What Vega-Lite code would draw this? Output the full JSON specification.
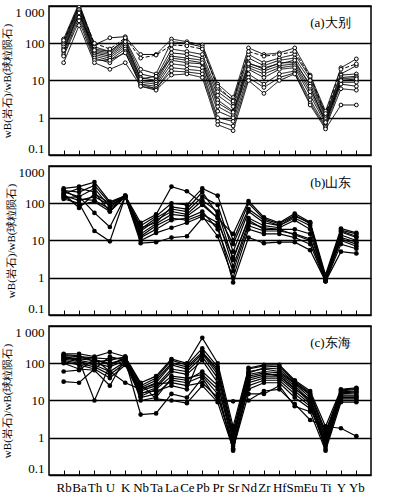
{
  "$schema": "https://vega.github.io/schema/vega-lite/v6.json",
  "padding": {"left": 1, "top": 5, "right": 5, "bottom": 3},
  "background": "white",
  "spacing": 11,
  "bounds": "flush",
  "config": {
    "view": {"stroke": "black", "strokeWidth": 1.5},
    "axis": {"labelColor": "black", "titleColor": "black"}
  },
  "datasets": {
    "a": [
      {"s":"a1","el":"Rb","v":130},{"s":"a1","el":"Ba","v":1200},{"s":"a1","el":"Th","v":90},{"s":"a1","el":"U","v":140},{"s":"a1","el":"K","v":150},{"s":"a1","el":"Nb","v":50},{"s":"a1","el":"Ta","v":50},{"s":"a1","el":"La","v":130},{"s":"a1","el":"Ce","v":110},{"s":"a1","el":"Pb","v":90},{"s":"a1","el":"Pr","v":8},{"s":"a1","el":"Sr","v":3.5},{"s":"a1","el":"Nd","v":75},{"s":"a1","el":"Zr","v":50},{"s":"a1","el":"Hf","v":55},{"s":"a1","el":"Sm","v":75},{"s":"a1","el":"Eu","v":14},{"s":"a1","el":"Ti","v":1.5},{"s":"a1","el":"Y","v":22},{"s":"a1","el":"Yb","v":38},
      {"s":"a2","el":"Rb","v":110},{"s":"a2","el":"Ba","v":1100},{"s":"a2","el":"Th","v":80},{"s":"a2","el":"U","v":60},{"s":"a2","el":"K","v":130},{"s":"a2","el":"Nb","v":20},{"s":"a2","el":"Ta","v":15},{"s":"a2","el":"La","v":110},{"s":"a2","el":"Ce","v":100},{"s":"a2","el":"Pb","v":80},{"s":"a2","el":"Pr","v":6},{"s":"a2","el":"Sr","v":3},{"s":"a2","el":"Nd","v":50},{"s":"a2","el":"Zr","v":30},{"s":"a2","el":"Hf","v":40},{"s":"a2","el":"Sm","v":50},{"s":"a2","el":"Eu","v":12},{"s":"a2","el":"Ti","v":1.2},{"s":"a2","el":"Y","v":15},{"s":"a2","el":"Yb","v":25},
      {"s":"a3","el":"Rb","v":100},{"s":"a3","el":"Ba","v":1000},{"s":"a3","el":"Th","v":70},{"s":"a3","el":"U","v":60},{"s":"a3","el":"K","v":120},{"s":"a3","el":"Nb","v":15},{"s":"a3","el":"Ta","v":12},{"s":"a3","el":"La","v":70},{"s":"a3","el":"Ce","v":60},{"s":"a3","el":"Pb","v":50},{"s":"a3","el":"Pr","v":5},{"s":"a3","el":"Sr","v":2.5},{"s":"a3","el":"Nd","v":40},{"s":"a3","el":"Zr","v":25},{"s":"a3","el":"Hf","v":35},{"s":"a3","el":"Sm","v":40},{"s":"a3","el":"Eu","v":10},{"s":"a3","el":"Ti","v":1.1},{"s":"a3","el":"Y","v":14},{"s":"a3","el":"Yb","v":15},
      {"s":"a4","el":"Rb","v":90},{"s":"a4","el":"Ba","v":900},{"s":"a4","el":"Th","v":60},{"s":"a4","el":"U","v":50},{"s":"a4","el":"K","v":100},{"s":"a4","el":"Nb","v":12},{"s":"a4","el":"Ta","v":10},{"s":"a4","el":"La","v":55},{"s":"a4","el":"Ce","v":50},{"s":"a4","el":"Pb","v":40},{"s":"a4","el":"Pr","v":4},{"s":"a4","el":"Sr","v":2},{"s":"a4","el":"Nd","v":30},{"s":"a4","el":"Zr","v":20},{"s":"a4","el":"Hf","v":30},{"s":"a4","el":"Sm","v":30},{"s":"a4","el":"Eu","v":8},{"s":"a4","el":"Ti","v":1.0},{"s":"a4","el":"Y","v":12},{"s":"a4","el":"Yb","v":13},
      {"s":"a5","el":"Rb","v":80},{"s":"a5","el":"Ba","v":800},{"s":"a5","el":"Th","v":55},{"s":"a5","el":"U","v":45},{"s":"a5","el":"K","v":90},{"s":"a5","el":"Nb","v":10},{"s":"a5","el":"Ta","v":9},{"s":"a5","el":"La","v":45},{"s":"a5","el":"Ce","v":40},{"s":"a5","el":"Pb","v":35},{"s":"a5","el":"Pr","v":3},{"s":"a5","el":"Sr","v":1.5},{"s":"a5","el":"Nd","v":25},{"s":"a5","el":"Zr","v":18},{"s":"a5","el":"Hf","v":25},{"s":"a5","el":"Sm","v":28},{"s":"a5","el":"Eu","v":6},{"s":"a5","el":"Ti","v":0.9},{"s":"a5","el":"Y","v":11},{"s":"a5","el":"Yb","v":12},
      {"s":"a6","el":"Rb","v":70},{"s":"a6","el":"Ba","v":700},{"s":"a6","el":"Th","v":50},{"s":"a6","el":"U","v":40},{"s":"a6","el":"K","v":80},{"s":"a6","el":"Nb","v":9},{"s":"a6","el":"Ta","v":8},{"s":"a6","el":"La","v":35},{"s":"a6","el":"Ce","v":30},{"s":"a6","el":"Pb","v":28},{"s":"a6","el":"Pr","v":2},{"s":"a6","el":"Sr","v":1.2},{"s":"a6","el":"Nd","v":22},{"s":"a6","el":"Zr","v":15},{"s":"a6","el":"Hf","v":22},{"s":"a6","el":"Sm","v":25},{"s":"a6","el":"Eu","v":5},{"s":"a6","el":"Ti","v":0.8},{"s":"a6","el":"Y","v":10},{"s":"a6","el":"Yb","v":10},
      {"s":"a7","el":"Rb","v":60},{"s":"a7","el":"Ba","v":600},{"s":"a7","el":"Th","v":45},{"s":"a7","el":"U","v":35},{"s":"a7","el":"K","v":70},{"s":"a7","el":"Nb","v":8},{"s":"a7","el":"Ta","v":7},{"s":"a7","el":"La","v":28},{"s":"a7","el":"Ce","v":25},{"s":"a7","el":"Pb","v":22},{"s":"a7","el":"Pr","v":1.5},{"s":"a7","el":"Sr","v":1.0},{"s":"a7","el":"Nd","v":20},{"s":"a7","el":"Zr","v":12},{"s":"a7","el":"Hf","v":20},{"s":"a7","el":"Sm","v":22},{"s":"a7","el":"Eu","v":4},{"s":"a7","el":"Ti","v":0.7},{"s":"a7","el":"Y","v":9},{"s":"a7","el":"Yb","v":9},
      {"s":"a8","el":"Rb","v":50},{"s":"a8","el":"Ba","v":500},{"s":"a8","el":"Th","v":40},{"s":"a8","el":"U","v":30},{"s":"a8","el":"K","v":60},{"s":"a8","el":"Nb","v":7},{"s":"a8","el":"Ta","v":6},{"s":"a8","el":"La","v":22},{"s":"a8","el":"Ce","v":20},{"s":"a8","el":"Pb","v":18},{"s":"a8","el":"Pr","v":1.0},{"s":"a8","el":"Sr","v":0.8},{"s":"a8","el":"Nd","v":15},{"s":"a8","el":"Zr","v":8},{"s":"a8","el":"Hf","v":15},{"s":"a8","el":"Sm","v":18},{"s":"a8","el":"Eu","v":3},{"s":"a8","el":"Ti","v":0.6},{"s":"a8","el":"Y","v":8},{"s":"a8","el":"Yb","v":7},
      {"s":"a9","el":"Rb","v":45},{"s":"a9","el":"Ba","v":400},{"s":"a9","el":"Th","v":35},{"s":"a9","el":"U","v":35},{"s":"a9","el":"K","v":55},{"s":"a9","el":"Nb","v":8},{"s":"a9","el":"Ta","v":6},{"s":"a9","el":"La","v":18},{"s":"a9","el":"Ce","v":17},{"s":"a9","el":"Pb","v":15},{"s":"a9","el":"Pr","v":0.8},{"s":"a9","el":"Sr","v":0.6},{"s":"a9","el":"Nd","v":12},{"s":"a9","el":"Zr","v":6.5},{"s":"a9","el":"Hf","v":12},{"s":"a9","el":"Sm","v":16},{"s":"a9","el":"Eu","v":2.5},{"s":"a9","el":"Ti","v":0.55},{"s":"a9","el":"Y","v":6},{"s":"a9","el":"Yb","v":5.5},
      {"s":"a10","el":"Rb","v":30},{"s":"a10","el":"Ba","v":300},{"s":"a10","el":"Th","v":30},{"s":"a10","el":"U","v":20},{"s":"a10","el":"K","v":30},{"s":"a10","el":"Nb","v":7},{"s":"a10","el":"Ta","v":5.5},{"s":"a10","el":"La","v":14},{"s":"a10","el":"Ce","v":15},{"s":"a10","el":"Pb","v":12},{"s":"a10","el":"Pr","v":0.65},{"s":"a10","el":"Sr","v":0.45},{"s":"a10","el":"Nd","v":10},{"s":"a10","el":"Zr","v":4.5},{"s":"a10","el":"Hf","v":10},{"s":"a10","el":"Sm","v":15},{"s":"a10","el":"Eu","v":2.2},{"s":"a10","el":"Ti","v":0.5},{"s":"a10","el":"Y","v":2.2},{"s":"a10","el":"Yb","v":2.2},
      {"s":"a11","el":"Rb","v":120},{"s":"a11","el":"Ba","v":1000},{"s":"a11","el":"Th","v":100},{"s":"a11","el":"U","v":70},{"s":"a11","el":"K","v":140},{"s":"a11","el":"Nb","v":40},{"s":"a11","el":"Ta","v":48},{"s":"a11","el":"La","v":90},{"s":"a11","el":"Ce","v":85},{"s":"a11","el":"Pb","v":70},{"s":"a11","el":"Pr","v":7},{"s":"a11","el":"Sr","v":2.8},{"s":"a11","el":"Nd","v":60},{"s":"a11","el":"Zr","v":45},{"s":"a11","el":"Hf","v":50},{"s":"a11","el":"Sm","v":60},{"s":"a11","el":"Eu","v":13},{"s":"a11","el":"Ti","v":1.3},{"s":"a11","el":"Y","v":20},{"s":"a11","el":"Yb","v":28},
      {"s":"a12","el":"Rb","v":65},{"s":"a12","el":"Ba","v":650},{"s":"a12","el":"Th","v":65},{"s":"a12","el":"U","v":55},{"s":"a12","el":"K","v":110},{"s":"a12","el":"Nb","v":11},{"s":"a12","el":"Ta","v":13},{"s":"a12","el":"La","v":40},{"s":"a12","el":"Ce","v":35},{"s":"a12","el":"Pb","v":30},{"s":"a12","el":"Pr","v":2.5},{"s":"a12","el":"Sr","v":1.4},{"s":"a12","el":"Nd","v":28},{"s":"a12","el":"Zr","v":22},{"s":"a12","el":"Hf","v":28},{"s":"a12","el":"Sm","v":35},{"s":"a12","el":"Eu","v":7},{"s":"a12","el":"Ti","v":0.75},{"s":"a12","el":"Y","v":10},{"s":"a12","el":"Yb","v":11}
    ],
    "b": [
      {"s":"b1","el":"Rb","v":250},{"s":"b1","el":"Ba","v":280},{"s":"b1","el":"Th","v":370},{"s":"b1","el":"U","v":110},{"s":"b1","el":"K","v":160},{"s":"b1","el":"Nb","v":30},{"s":"b1","el":"Ta","v":50},{"s":"b1","el":"La","v":280},{"s":"b1","el":"Ce","v":210},{"s":"b1","el":"Pb","v":100},{"s":"b1","el":"Pr","v":40},{"s":"b1","el":"Sr","v":15},{"s":"b1","el":"Nd","v":115},{"s":"b1","el":"Zr","v":42},{"s":"b1","el":"Hf","v":30},{"s":"b1","el":"Sm","v":53},{"s":"b1","el":"Eu","v":31},{"s":"b1","el":"Ti","v":1.2},{"s":"b1","el":"Y","v":21},{"s":"b1","el":"Yb","v":16},
      {"s":"b2","el":"Rb","v":220},{"s":"b2","el":"Ba","v":200},{"s":"b2","el":"Th","v":300},{"s":"b2","el":"U","v":100},{"s":"b2","el":"K","v":155},{"s":"b2","el":"Nb","v":25},{"s":"b2","el":"Ta","v":45},{"s":"b2","el":"La","v":100},{"s":"b2","el":"Ce","v":90},{"s":"b2","el":"Pb","v":250},{"s":"b2","el":"Pr","v":160},{"s":"b2","el":"Sr","v":10},{"s":"b2","el":"Nd","v":100},{"s":"b2","el":"Zr","v":38},{"s":"b2","el":"Hf","v":28},{"s":"b2","el":"Sm","v":48},{"s":"b2","el":"Eu","v":28},{"s":"b2","el":"Ti","v":1.0},{"s":"b2","el":"Y","v":19},{"s":"b2","el":"Yb","v":15},
      {"s":"b3","el":"Rb","v":200},{"s":"b3","el":"Ba","v":150},{"s":"b3","el":"Th","v":250},{"s":"b3","el":"U","v":80},{"s":"b3","el":"K","v":150},{"s":"b3","el":"Nb","v":20},{"s":"b3","el":"Ta","v":40},{"s":"b3","el":"La","v":70},{"s":"b3","el":"Ce","v":60},{"s":"b3","el":"Pb","v":150},{"s":"b3","el":"Pr","v":90},{"s":"b3","el":"Sr","v":5},{"s":"b3","el":"Nd","v":60},{"s":"b3","el":"Zr","v":30},{"s":"b3","el":"Hf","v":25},{"s":"b3","el":"Sm","v":40},{"s":"b3","el":"Eu","v":25},{"s":"b3","el":"Ti","v":0.9},{"s":"b3","el":"Y","v":17},{"s":"b3","el":"Yb","v":12},
      {"s":"b4","el":"Rb","v":180},{"s":"b4","el":"Ba","v":250},{"s":"b4","el":"Th","v":200},{"s":"b4","el":"U","v":60},{"s":"b4","el":"K","v":150},{"s":"b4","el":"Nb","v":18},{"s":"b4","el":"Ta","v":35},{"s":"b4","el":"La","v":60},{"s":"b4","el":"Ce","v":50},{"s":"b4","el":"Pb","v":120},{"s":"b4","el":"Pr","v":60},{"s":"b4","el":"Sr","v":3},{"s":"b4","el":"Nd","v":40},{"s":"b4","el":"Zr","v":25},{"s":"b4","el":"Hf","v":22},{"s":"b4","el":"Sm","v":35},{"s":"b4","el":"Eu","v":20},{"s":"b4","el":"Ti","v":0.8},{"s":"b4","el":"Y","v":14},{"s":"b4","el":"Yb","v":10},
      {"s":"b5","el":"Rb","v":160},{"s":"b5","el":"Ba","v":120},{"s":"b5","el":"Th","v":150},{"s":"b5","el":"U","v":90},{"s":"b5","el":"K","v":150},{"s":"b5","el":"Nb","v":15},{"s":"b5","el":"Ta","v":28},{"s":"b5","el":"La","v":50},{"s":"b5","el":"Ce","v":45},{"s":"b5","el":"Pb","v":90},{"s":"b5","el":"Pr","v":40},{"s":"b5","el":"Sr","v":2},{"s":"b5","el":"Nd","v":30},{"s":"b5","el":"Zr","v":22},{"s":"b5","el":"Hf","v":20},{"s":"b5","el":"Sm","v":20},{"s":"b5","el":"Eu","v":15},{"s":"b5","el":"Ti","v":0.9},{"s":"b5","el":"Y","v":12},{"s":"b5","el":"Yb","v":9},
      {"s":"b6","el":"Rb","v":150},{"s":"b6","el":"Ba","v":90},{"s":"b6","el":"Th","v":110},{"s":"b6","el":"U","v":60},{"s":"b6","el":"K","v":150},{"s":"b6","el":"Nb","v":12},{"s":"b6","el":"Ta","v":20},{"s":"b6","el":"La","v":35},{"s":"b6","el":"Ce","v":40},{"s":"b6","el":"Pb","v":60},{"s":"b6","el":"Pr","v":20},{"s":"b6","el":"Sr","v":1.5},{"s":"b6","el":"Nd","v":25},{"s":"b6","el":"Zr","v":18},{"s":"b6","el":"Hf","v":18},{"s":"b6","el":"Sm","v":15},{"s":"b6","el":"Eu","v":11},{"s":"b6","el":"Ti","v":0.85},{"s":"b6","el":"Y","v":10},{"s":"b6","el":"Yb","v":7},
      {"s":"b7","el":"Rb","v":140},{"s":"b7","el":"Ba","v":150},{"s":"b7","el":"Th","v":55},{"s":"b7","el":"U","v":23},{"s":"b7","el":"K","v":150},{"s":"b7","el":"Nb","v":10},{"s":"b7","el":"Ta","v":16},{"s":"b7","el":"La","v":22},{"s":"b7","el":"Ce","v":30},{"s":"b7","el":"Pb","v":45},{"s":"b7","el":"Pr","v":13},{"s":"b7","el":"Sr","v":1},{"s":"b7","el":"Nd","v":20},{"s":"b7","el":"Zr","v":15},{"s":"b7","el":"Hf","v":15},{"s":"b7","el":"Sm","v":12},{"s":"b7","el":"Eu","v":8},{"s":"b7","el":"Ti","v":0.8},{"s":"b7","el":"Y","v":8},{"s":"b7","el":"Yb","v":6},
      {"s":"b8","el":"Rb","v":130},{"s":"b8","el":"Ba","v":100},{"s":"b8","el":"Th","v":18},{"s":"b8","el":"U","v":9.5},{"s":"b8","el":"K","v":150},{"s":"b8","el":"Nb","v":8.5},{"s":"b8","el":"Ta","v":9},{"s":"b8","el":"La","v":12},{"s":"b8","el":"Ce","v":13},{"s":"b8","el":"Pb","v":40},{"s":"b8","el":"Pr","v":25},{"s":"b8","el":"Sr","v":0.75},{"s":"b8","el":"Nd","v":12},{"s":"b8","el":"Zr","v":8.5},{"s":"b8","el":"Hf","v":9},{"s":"b8","el":"Sm","v":9},{"s":"b8","el":"Eu","v":5.5},{"s":"b8","el":"Ti","v":0.8},{"s":"b8","el":"Y","v":5},{"s":"b8","el":"Yb","v":4.5},
      {"s":"b9","el":"Rb","v":180},{"s":"b9","el":"Ba","v":75},{"s":"b9","el":"Th","v":180},{"s":"b9","el":"U","v":100},{"s":"b9","el":"K","v":160},{"s":"b9","el":"Nb","v":22},{"s":"b9","el":"Ta","v":30},{"s":"b9","el":"La","v":80},{"s":"b9","el":"Ce","v":70},{"s":"b9","el":"Pb","v":200},{"s":"b9","el":"Pr","v":50},{"s":"b9","el":"Sr","v":8},{"s":"b9","el":"Nd","v":70},{"s":"b9","el":"Zr","v":35},{"s":"b9","el":"Hf","v":25},{"s":"b9","el":"Sm","v":45},{"s":"b9","el":"Eu","v":30},{"s":"b9","el":"Ti","v":1.0},{"s":"b9","el":"Y","v":18},{"s":"b9","el":"Yb","v":13},
      {"s":"b10","el":"Rb","v":230},{"s":"b10","el":"Ba","v":130},{"s":"b10","el":"Th","v":120},{"s":"b10","el":"U","v":70},{"s":"b10","el":"K","v":150},{"s":"b10","el":"Nb","v":13},{"s":"b10","el":"Ta","v":25},{"s":"b10","el":"La","v":40},{"s":"b10","el":"Ce","v":35},{"s":"b10","el":"Pb","v":50},{"s":"b10","el":"Pr","v":30},{"s":"b10","el":"Sr","v":3.5},{"s":"b10","el":"Nd","v":35},{"s":"b10","el":"Zr","v":20},{"s":"b10","el":"Hf","v":20},{"s":"b10","el":"Sm","v":14},{"s":"b10","el":"Eu","v":10},{"s":"b10","el":"Ti","v":0.9},{"s":"b10","el":"Y","v":11},{"s":"b10","el":"Yb","v":8}
    ],
    "c": [
      {"s":"c1","el":"Rb","v":180},{"s":"c1","el":"Ba","v":180},{"s":"c1","el":"Th","v":150},{"s":"c1","el":"U","v":200},{"s":"c1","el":"K","v":150},{"s":"c1","el":"Nb","v":30},{"s":"c1","el":"Ta","v":45},{"s":"c1","el":"La","v":130},{"s":"c1","el":"Ce","v":100},{"s":"c1","el":"Pb","v":480},{"s":"c1","el":"Pr","v":100},{"s":"c1","el":"Sr","v":2},{"s":"c1","el":"Nd","v":75},{"s":"c1","el":"Zr","v":90},{"s":"c1","el":"Hf","v":90},{"s":"c1","el":"Sm","v":35},{"s":"c1","el":"Eu","v":18},{"s":"c1","el":"Ti","v":2},{"s":"c1","el":"Y","v":20},{"s":"c1","el":"Yb","v":22},
      {"s":"c2","el":"Rb","v":160},{"s":"c2","el":"Ba","v":150},{"s":"c2","el":"Th","v":140},{"s":"c2","el":"U","v":130},{"s":"c2","el":"K","v":140},{"s":"c2","el":"Nb","v":25},{"s":"c2","el":"Ta","v":40},{"s":"c2","el":"La","v":120},{"s":"c2","el":"Ce","v":90},{"s":"c2","el":"Pb","v":250},{"s":"c2","el":"Pr","v":80},{"s":"c2","el":"Sr","v":1.5},{"s":"c2","el":"Nd","v":70},{"s":"c2","el":"Zr","v":85},{"s":"c2","el":"Hf","v":80},{"s":"c2","el":"Sm","v":33},{"s":"c2","el":"Eu","v":16},{"s":"c2","el":"Ti","v":1.5},{"s":"c2","el":"Y","v":18},{"s":"c2","el":"Yb","v":20},
      {"s":"c3","el":"Rb","v":150},{"s":"c3","el":"Ba","v":130},{"s":"c3","el":"Th","v":120},{"s":"c3","el":"U","v":100},{"s":"c3","el":"K","v":130},{"s":"c3","el":"Nb","v":22},{"s":"c3","el":"Ta","v":35},{"s":"c3","el":"La","v":100},{"s":"c3","el":"Ce","v":80},{"s":"c3","el":"Pb","v":200},{"s":"c3","el":"Pr","v":60},{"s":"c3","el":"Sr","v":1.2},{"s":"c3","el":"Nd","v":60},{"s":"c3","el":"Zr","v":70},{"s":"c3","el":"Hf","v":60},{"s":"c3","el":"Sm","v":30},{"s":"c3","el":"Eu","v":14},{"s":"c3","el":"Ti","v":1.2},{"s":"c3","el":"Y","v":17},{"s":"c3","el":"Yb","v":18},
      {"s":"c4","el":"Rb","v":140},{"s":"c4","el":"Ba","v":120},{"s":"c4","el":"Th","v":100},{"s":"c4","el":"U","v":80},{"s":"c4","el":"K","v":120},{"s":"c4","el":"Nb","v":20},{"s":"c4","el":"Ta","v":30},{"s":"c4","el":"La","v":90},{"s":"c4","el":"Ce","v":70},{"s":"c4","el":"Pb","v":180},{"s":"c4","el":"Pr","v":50},{"s":"c4","el":"Sr","v":1},{"s":"c4","el":"Nd","v":50},{"s":"c4","el":"Zr","v":60},{"s":"c4","el":"Hf","v":55},{"s":"c4","el":"Sm","v":28},{"s":"c4","el":"Eu","v":12},{"s":"c4","el":"Ti","v":1},{"s":"c4","el":"Y","v":16},{"s":"c4","el":"Yb","v":17},
      {"s":"c5","el":"Rb","v":130},{"s":"c5","el":"Ba","v":110},{"s":"c5","el":"Th","v":90},{"s":"c5","el":"U","v":60},{"s":"c5","el":"K","v":110},{"s":"c5","el":"Nb","v":18},{"s":"c5","el":"Ta","v":25},{"s":"c5","el":"La","v":70},{"s":"c5","el":"Ce","v":60},{"s":"c5","el":"Pb","v":150},{"s":"c5","el":"Pr","v":40},{"s":"c5","el":"Sr","v":0.8},{"s":"c5","el":"Nd","v":40},{"s":"c5","el":"Zr","v":50},{"s":"c5","el":"Hf","v":50},{"s":"c5","el":"Sm","v":25},{"s":"c5","el":"Eu","v":10},{"s":"c5","el":"Ti","v":0.9},{"s":"c5","el":"Y","v":15},{"s":"c5","el":"Yb","v":16},
      {"s":"c6","el":"Rb","v":120},{"s":"c6","el":"Ba","v":100},{"s":"c6","el":"Th","v":80},{"s":"c6","el":"U","v":50},{"s":"c6","el":"K","v":100},{"s":"c6","el":"Nb","v":15},{"s":"c6","el":"Ta","v":22},{"s":"c6","el":"La","v":60},{"s":"c6","el":"Ce","v":50},{"s":"c6","el":"Pb","v":120},{"s":"c6","el":"Pr","v":30},{"s":"c6","el":"Sr","v":0.6},{"s":"c6","el":"Nd","v":35},{"s":"c6","el":"Zr","v":45},{"s":"c6","el":"Hf","v":45},{"s":"c6","el":"Sm","v":22},{"s":"c6","el":"Eu","v":9},{"s":"c6","el":"Ti","v":0.7},{"s":"c6","el":"Y","v":14},{"s":"c6","el":"Yb","v":14},
      {"s":"c7","el":"Rb","v":110},{"s":"c7","el":"Ba","v":90},{"s":"c7","el":"Th","v":70},{"s":"c7","el":"U","v":40},{"s":"c7","el":"K","v":90},{"s":"c7","el":"Nb","v":13},{"s":"c7","el":"Ta","v":20},{"s":"c7","el":"La","v":45},{"s":"c7","el":"Ce","v":40},{"s":"c7","el":"Pb","v":50},{"s":"c7","el":"Pr","v":20},{"s":"c7","el":"Sr","v":0.45},{"s":"c7","el":"Nd","v":30},{"s":"c7","el":"Zr","v":40},{"s":"c7","el":"Hf","v":40},{"s":"c7","el":"Sm","v":18},{"s":"c7","el":"Eu","v":8},{"s":"c7","el":"Ti","v":0.5},{"s":"c7","el":"Y","v":12},{"s":"c7","el":"Yb","v":12},
      {"s":"c8","el":"Rb","v":100},{"s":"c8","el":"Ba","v":70},{"s":"c8","el":"Th","v":65},{"s":"c8","el":"U","v":25},{"s":"c8","el":"K","v":140},{"s":"c8","el":"Nb","v":12},{"s":"c8","el":"Ta","v":15},{"s":"c8","el":"La","v":35},{"s":"c8","el":"Ce","v":30},{"s":"c8","el":"Pb","v":45},{"s":"c8","el":"Pr","v":15},{"s":"c8","el":"Sr","v":0.5},{"s":"c8","el":"Nd","v":25},{"s":"c8","el":"Zr","v":35},{"s":"c8","el":"Hf","v":35},{"s":"c8","el":"Sm","v":15},{"s":"c8","el":"Eu","v":7},{"s":"c8","el":"Ti","v":0.6},{"s":"c8","el":"Y","v":11},{"s":"c8","el":"Yb","v":11},
      {"s":"c9","el":"Rb","v":60},{"s":"c9","el":"Ba","v":65},{"s":"c9","el":"Th","v":130},{"s":"c9","el":"U","v":60},{"s":"c9","el":"K","v":30},{"s":"c9","el":"Nb","v":20},{"s":"c9","el":"Ta","v":28},{"s":"c9","el":"La","v":30},{"s":"c9","el":"Ce","v":25},{"s":"c9","el":"Pb","v":30},{"s":"c9","el":"Pr","v":12},{"s":"c9","el":"Sr","v":0.7},{"s":"c9","el":"Nd","v":20},{"s":"c9","el":"Zr","v":30},{"s":"c9","el":"Hf","v":30},{"s":"c9","el":"Sm","v":12},{"s":"c9","el":"Eu","v":6},{"s":"c9","el":"Ti","v":0.8},{"s":"c9","el":"Y","v":10},{"s":"c9","el":"Yb","v":10},
      {"s":"c10","el":"Rb","v":32},{"s":"c10","el":"Ba","v":30},{"s":"c10","el":"Th","v":70},{"s":"c10","el":"U","v":150},{"s":"c10","el":"K","v":120},{"s":"c10","el":"Nb","v":4.2},{"s":"c10","el":"Ta","v":4.5},{"s":"c10","el":"La","v":15},{"s":"c10","el":"Ce","v":12},{"s":"c10","el":"Pb","v":40},{"s":"c10","el":"Pr","v":10},{"s":"c10","el":"Sr","v":9.5},{"s":"c10","el":"Nd","v":10},{"s":"c10","el":"Zr","v":18},{"s":"c10","el":"Hf","v":20},{"s":"c10","el":"Sm","v":8},{"s":"c10","el":"Eu","v":3},{"s":"c10","el":"Ti","v":2},{"s":"c10","el":"Y","v":1.8},{"s":"c10","el":"Yb","v":1.1},
      {"s":"c11","el":"Rb","v":150},{"s":"c11","el":"Ba","v":120},{"s":"c11","el":"Th","v":10},{"s":"c11","el":"U","v":90},{"s":"c11","el":"K","v":140},{"s":"c11","el":"Nb","v":28},{"s":"c11","el":"Ta","v":11},{"s":"c11","el":"La","v":10},{"s":"c11","el":"Ce","v":8.5},{"s":"c11","el":"Pb","v":25},{"s":"c11","el":"Pr","v":9},{"s":"c11","el":"Sr","v":0.5},{"s":"c11","el":"Nd","v":15},{"s":"c11","el":"Zr","v":15},{"s":"c11","el":"Hf","v":25},{"s":"c11","el":"Sm","v":7},{"s":"c11","el":"Eu","v":5},{"s":"c11","el":"Ti","v":0.45},{"s":"c11","el":"Y","v":9},{"s":"c11","el":"Yb","v":9},
      {"s":"c12","el":"Rb","v":170},{"s":"c12","el":"Ba","v":160},{"s":"c12","el":"Th","v":110},{"s":"c12","el":"U","v":120},{"s":"c12","el":"K","v":150},{"s":"c12","el":"Nb","v":10},{"s":"c12","el":"Ta","v":12},{"s":"c12","el":"La","v":40},{"s":"c12","el":"Ce","v":35},{"s":"c12","el":"Pb","v":60},{"s":"c12","el":"Pr","v":25},{"s":"c12","el":"Sr","v":0.9},{"s":"c12","el":"Nd","v":45},{"s":"c12","el":"Zr","v":55},{"s":"c12","el":"Hf","v":45},{"s":"c12","el":"Sm","v":20},{"s":"c12","el":"Eu","v":11},{"s":"c12","el":"Ti","v":0.7},{"s":"c12","el":"Y","v":13},{"s":"c12","el":"Yb","v":13},
      {"s":"c13","el":"Rb","v":130},{"s":"c13","el":"Ba","v":140},{"s":"c13","el":"Th","v":130},{"s":"c13","el":"U","v":90},{"s":"c13","el":"K","v":130},{"s":"c13","el":"Nb","v":16},{"s":"c13","el":"Ta","v":18},{"s":"c13","el":"La","v":25},{"s":"c13","el":"Ce","v":20},{"s":"c13","el":"Pb","v":200},{"s":"c13","el":"Pr","v":70},{"s":"c13","el":"Sr","v":1.1},{"s":"c13","el":"Nd","v":55},{"s":"c13","el":"Zr","v":75},{"s":"c13","el":"Hf","v":70},{"s":"c13","el":"Sm","v":30},{"s":"c13","el":"Eu","v":15},{"s":"c13","el":"Ti","v":1.3},{"s":"c13","el":"Y","v":19},{"s":"c13","el":"Yb","v":21}
    ]
  },
  "vconcat": [
    {
      "width": 322, "height": 149,
      "encoding": {
        "x": {"field": "el", "type": "ordinal", "sort": ["Rb","Ba","Th","U","K","Nb","Ta","La","Ce","Pb","Pr","Sr","Nd","Zr","Hf","Sm","Eu","Ti","Y","Yb"], "scale": {"type": "point", "padding": 0.95}, "axis": {"title": null, "labels": false, "tickSize": -5, "tickColor": "black", "tickWidth": 1, "domain": false, "grid": false}},
        "y": {"field": "v", "type": "quantitative", "scale": {"type": "log", "domain": [0.1, 1000]}, "axis": {"title": "wB(岩石)/wB(球粒陨石)", "titleFont": "Liberation Serif", "titleFontSize": 11, "titleFontWeight": "normal", "titlePadding": 2, "values": [0.1, 1, 10, 100, 1000], "labelExpr": "datum.value == 1000 ? '1 000' : format(datum.value, '~g')", "labelFont": "Liberation Serif", "labelFontSize": 13, "labelFlush": true, "ticks": false, "domain": false, "grid": true, "gridColor": "black", "gridWidth": 1.5, "gridOpacity": 1, "labelPadding": 5}}
      },
      "layer": [
        {"data": {"name": "a"}, "mark": {"type": "line", "color": "black", "strokeWidth": 1, "clip": true}, "encoding": {"detail": {"field": "s"}, "strokeDash": {"field": "s", "type": "nominal", "legend": null, "scale": {"domain": ["a1","a2","a3","a4","a5","a6","a7","a8","a9","a10","a11","a12"], "range": [[1,0],[1,0],[1,0],[1,0],[1,0],[1,0],[1,0],[1,0],[1,0],[1,0],[4,2],[1,0]]}}}},
        {"data": {"name": "a"}, "mark": {"type": "point", "shape": "circle", "filled": true, "fill": "white", "stroke": "black", "strokeWidth": 1, "size": 14, "opacity": 1, "clip": true}},
        {"data": {"values": [{"el": "Eu", "v": 350, "t": "(a)大别"}]}, "mark": {"type": "text", "align": "left", "baseline": "middle", "fontSize": 13, "font": "Liberation Serif", "color": "black"}, "encoding": {"text": {"field": "t"}}}
      ]
    },
    {
      "width": 322, "height": 149,
      "encoding": {
        "x": {"field": "el", "type": "ordinal", "sort": ["Rb","Ba","Th","U","K","Nb","Ta","La","Ce","Pb","Pr","Sr","Nd","Zr","Hf","Sm","Eu","Ti","Y","Yb"], "scale": {"type": "point", "padding": 0.95}, "axis": {"title": null, "labels": false, "tickSize": -5, "tickColor": "black", "tickWidth": 1, "domain": false, "grid": false}},
        "y": {"field": "v", "type": "quantitative", "scale": {"type": "log", "domain": [0.1, 1000]}, "axis": {"title": "wB(岩石)/wB(球粒陨石)", "titleFont": "Liberation Serif", "titleFontSize": 11, "titleFontWeight": "normal", "titlePadding": 2, "values": [0.1, 1, 10, 100, 1000], "labelExpr": "format(datum.value, '~g')", "labelFont": "Liberation Serif", "labelFontSize": 13, "labelFlush": true, "ticks": false, "domain": false, "grid": true, "gridColor": "black", "gridWidth": 1.5, "gridOpacity": 1, "labelPadding": 5}}
      },
      "layer": [
        {"data": {"name": "b"}, "mark": {"type": "line", "color": "black", "strokeWidth": 1.2, "clip": true}, "encoding": {"detail": {"field": "s"}}},
        {"data": {"name": "b"}, "mark": {"type": "point", "shape": "circle", "filled": true, "color": "black", "size": 22, "opacity": 1, "clip": true}},
        {"data": {"values": [{"el": "Eu", "v": 350, "t": "(b)山东"}]}, "mark": {"type": "text", "align": "left", "baseline": "middle", "fontSize": 13, "font": "Liberation Serif", "color": "black"}, "encoding": {"text": {"field": "t"}}}
      ]
    },
    {
      "width": 322, "height": 149,
      "encoding": {
        "x": {"field": "el", "type": "ordinal", "sort": ["Rb","Ba","Th","U","K","Nb","Ta","La","Ce","Pb","Pr","Sr","Nd","Zr","Hf","Sm","Eu","Ti","Y","Yb"], "scale": {"type": "point", "padding": 0.95}, "axis": {"title": null, "labels": true, "labelAngle": 0, "labelFont": "Liberation Serif", "labelFontSize": 13, "labelPadding": 11, "tickSize": -5, "tickColor": "black", "tickWidth": 1, "domain": false, "grid": false}},
        "y": {"field": "v", "type": "quantitative", "scale": {"type": "log", "domain": [0.1, 1000]}, "axis": {"title": "wB(岩石)/wB(球粒陨石)", "titleFont": "Liberation Serif", "titleFontSize": 11, "titleFontWeight": "normal", "titlePadding": 2, "values": [0.1, 1, 10, 100, 1000], "labelExpr": "datum.value == 1000 ? '1 000' : format(datum.value, '~g')", "labelFont": "Liberation Serif", "labelFontSize": 13, "labelFlush": true, "ticks": false, "domain": false, "grid": true, "gridColor": "black", "gridWidth": 1.5, "gridOpacity": 1, "labelPadding": 5}}
      },
      "layer": [
        {"data": {"name": "c"}, "mark": {"type": "line", "color": "black", "strokeWidth": 1.2, "clip": true}, "encoding": {"detail": {"field": "s"}}},
        {"data": {"name": "c"}, "mark": {"type": "point", "shape": "circle", "filled": true, "color": "black", "size": 22, "opacity": 1, "clip": true}},
        {"data": {"values": [{"el": "Eu", "v": 350, "t": "(c)东海"}]}, "mark": {"type": "text", "align": "left", "baseline": "middle", "fontSize": 13, "font": "Liberation Serif", "color": "black"}, "encoding": {"text": {"field": "t"}}}
      ]
    }
  ]
}
